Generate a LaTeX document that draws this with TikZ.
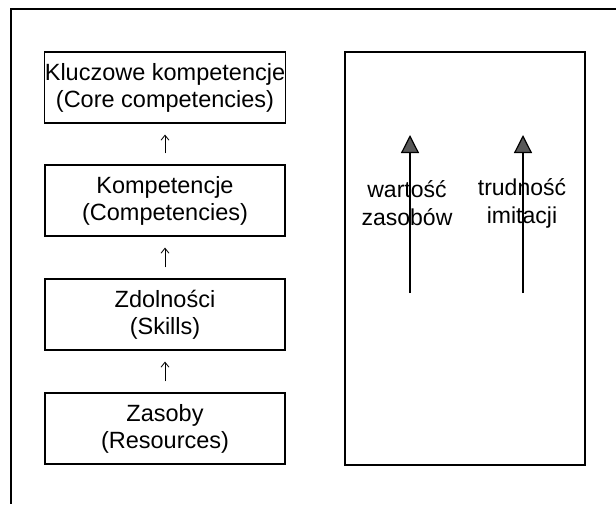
\documentclass[tikz,border=0pt]{standalone}
\usepackage{fontspec}
\setmainfont{Liberation Sans}
\usetikzlibrary{arrows.meta}
\begin{document}
\begin{tikzpicture}[x=1pt,y=-1pt,
	box/.style={draw,line width=1.2pt,minimum width=240pt,minimum height=71pt,align=center,inner sep=0pt,font=\fontsize{23.5}{27}\selectfont},
	lbl/.style={align=center,inner sep=0pt,font=\fontsize{23}{28}\selectfont},
	up/.style={-{Straight Barb[length=5pt,width=8pt]},line width=.8pt,shorten <=11pt,shorten >=11pt},
	big/.style={-{Triangle[length=18pt,width=18pt,fill=gray!70!black]},line width=1.2pt}]
	\useasboundingbox(0,0)rectangle(616,504);
	\draw[line width=1.4pt](616,9)--(11,9)--(11,504);
	\node[box](k1)at(165,87.5){Kluczowe kompetencje\\(Core competencies)};
	\node[box](k2)at(165,200.5){Kompetencje\\(Competencies)};
	\node[box](k3)at(165,314.5){Zdolności\\(Skills)};
	\node[box](k4)at(165,428.5){Zasoby\\(Resources)};
	\draw[up](k2)--(k1);
	\draw[up](k3)--(k2);
	\draw[up](k4)--(k3);
	\node[box,minimum height=413pt](pole)at(465,258.5){};
	\node[lbl](wz)at(407,203){wartość\\zasobów};
	\node[lbl](ti)at(522,203){trudność\\imitacji};
	\coordinate(w0)at(410,293);
	\coordinate(w1)at(410,135);
	\coordinate(t0)at(523,293);
	\coordinate(t1)at(523,135);
	\draw[big](w0)--(w1);
	\draw[big](t0)--(t1);
\end{tikzpicture}
\end{document}
